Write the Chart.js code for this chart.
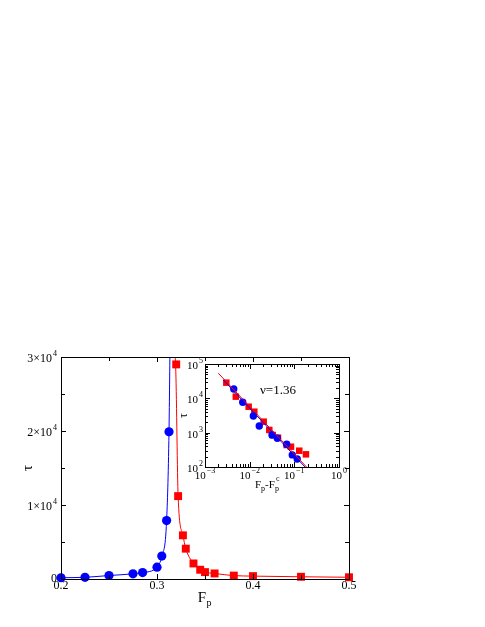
<!DOCTYPE html>
<html><head><meta charset="utf-8">
<script src="https://cdn.jsdelivr.net/npm/chart.js@4"></script>
<style>
html,body{margin:0;padding:0;background:#fff;}
#wrap{position:relative;width:485px;height:627px;}
canvas{position:absolute;left:0;top:0;}
#inset{pointer-events:none;}
</style></head><body>
<div id="wrap"><canvas id="main" width="485" height="627"></canvas><canvas id="inset" width="485" height="627"></canvas></div>
<script>
// ---------- main plot data ----------
const blueF   = [0.200, 0.225, 0.250, 0.275, 0.285, 0.300, 0.305, 0.310, 0.3125];
const blueTau = [170, 230, 470, 700, 870, 1600, 3100, 7900, 19900];
const redF    = [0.320, 0.322, 0.327, 0.330, 0.338, 0.345, 0.350, 0.360, 0.380, 0.400, 0.450, 0.500];
const redTau  = [29000, 11200, 5900, 4100, 2100, 1250, 930, 750, 460, 390, 300, 235];
// fitted curves
const blueCurveF   = [0.200, 0.225, 0.250, 0.275, 0.285, 0.300, 0.305, 0.310, 0.3125, 0.3136];
const blueCurveTau = [170, 230, 470, 700, 870, 1600, 3100, 7900, 19900, 32000];
const redCurveF    = [0.3174, 0.3196, 0.322, 0.327, 0.330, 0.338, 0.345, 0.350, 0.360, 0.380, 0.400, 0.450, 0.500];
const redCurveTau  = [32000, 28000, 11200, 5900, 4100, 2100, 1250, 930, 750, 460, 390, 300, 235];
// main ticks
const xMajorTicks = [0.2, 0.3, 0.4, 0.5];
const xTickLabels = ['0.2', '0.3', '0.4', '0.5'];
const xMinorTicks = [0.25, 0.35, 0.45];
const yMajorTicks = [0, 10000, 20000, 30000];
const yTickBase   = ['0', '1\u00d710', '2\u00d710', '3\u00d710'];
const yTickExp    = ['', '4', '4', '4'];
const yMinorTicks = [5000, 15000, 25000];

// ---------- inset data ----------
const insetBlueX = [0.0044, 0.0070, 0.0121, 0.0164, 0.0316, 0.0416, 0.0674, 0.090, 0.116];
const insetBlueY = [18700, 7700, 3060, 1560, 855, 686, 458, 225, 171];
const insetRedX  = [0.0030, 0.0049, 0.0095, 0.0127, 0.0206, 0.0275, 0.0328, 0.0431, 0.0674, 0.0842, 0.129, 0.182];
const insetRedY  = [28600, 11200, 5700, 4080, 2090, 1200, 855, 715, 437, 390, 298, 234];
const insetBlueFitX = [0.00257, 0.180];
const insetBlueFitY = [34200, 95];
const insetRedFitX  = [0.00199, 0.195];
const insetRedFitY  = [53700, 95];
const insetXDecades = [-3, -2, -1, 0];
const insetYDecades = [2, 3, 4, 5];
const nuLabel = '\u03bd=1.36';

const FONT = '"Liberation Serif", "DejaVu Serif", serif';
const pts = (xs, ys) => xs.map((x, i) => ({x: x, y: ys[i]}));

function drawPow(ctx, base, sup, x, y, align, size) {
  ctx.save();
  ctx.textBaseline = 'middle';
  ctx.fillStyle = '#000';
  const ss = Math.round(size * 0.7);
  ctx.font = size + 'px ' + FONT;
  const wb = ctx.measureText(base).width;
  ctx.font = ss + 'px ' + FONT;
  const ws = sup ? ctx.measureText(sup).width + 1 : 0;
  const total = wb + ws;
  const x0 = align === 'right' ? x - total : (align === 'center' ? x - total / 2 : x);
  const yc = sup ? y + size * 0.18 : y;
  ctx.textAlign = 'left';
  ctx.font = size + 'px ' + FONT;
  ctx.fillText(base, x0, yc);
  if (sup) {
    ctx.font = ss + 'px ' + FONT;
    ctx.fillText(sup, x0 + wb + 1, yc - size * 0.45);
  }
  ctx.restore();
}

function px(v) { return Math.round(v) + 0.5; }

const mainDecor = {
  id: 'mainDecor',
  afterDraw(chart) {
    const ctx = chart.ctx, a = chart.chartArea;
    const xs = chart.scales.x, ys = chart.scales.y;
    ctx.save();
    ctx.strokeStyle = '#000'; ctx.lineWidth = 1;
    ctx.strokeRect(px(a.left), px(a.top), Math.round(a.right - a.left), Math.round(a.bottom - a.top));
    ctx.beginPath();
    const xt = (v, len) => { const p = px(xs.getPixelForValue(v));
      ctx.moveTo(p, a.bottom); ctx.lineTo(p, a.bottom - len);
      ctx.moveTo(p, a.top); ctx.lineTo(p, a.top + len); };
    const yt = (v, len) => { const p = px(ys.getPixelForValue(v));
      ctx.moveTo(a.left, p); ctx.lineTo(a.left + len, p);
      ctx.moveTo(a.right, p); ctx.lineTo(a.right - len, p); };
    xMajorTicks.forEach(v => xt(v, 5)); xMinorTicks.forEach(v => xt(v, 4));
    yMajorTicks.forEach(v => yt(v, 5)); yMinorTicks.forEach(v => yt(v, 4));
    ctx.stroke();
    // labels
    ctx.fillStyle = '#000';
    ctx.font = '12px ' + FONT; ctx.textAlign = 'center'; ctx.textBaseline = 'top';
    xMajorTicks.forEach((v, i) => ctx.fillText(xTickLabels[i], xs.getPixelForValue(v), a.bottom + 1));
    yMajorTicks.forEach((v, i) => drawPow(ctx, yTickBase[i], yTickExp[i], a.left - 4, ys.getPixelForValue(v), 'right', 12));
    // axis titles
    ctx.font = '15px ' + FONT; ctx.textAlign = 'center'; ctx.textBaseline = 'alphabetic';
    const cx = (a.left + a.right) / 2;
    ctx.fillText('F', cx - 3, a.bottom + 23);
    ctx.font = '10px ' + FONT;
    ctx.fillText('p', cx + 4, a.bottom + 27);
    ctx.save();
    ctx.translate(a.left - 33, (a.top + a.bottom) / 2);
    ctx.rotate(-Math.PI / 2);
    ctx.font = '15px ' + FONT; ctx.textBaseline = 'middle';
    ctx.fillText('\u03c4', 0, 0);
    ctx.restore();
    ctx.restore();
  }
};

new Chart(document.getElementById('main'), {
  type: 'scatter',
  data: { datasets: [
    { data: pts(blueCurveF, blueCurveTau), showLine: true, borderColor: '#0000ff', borderWidth: 1,
      pointRadius: 0, cubicInterpolationMode: 'monotone', clip: 0 },
    { data: pts(redCurveF, redCurveTau), showLine: true, borderColor: '#ff0000', borderWidth: 1,
      pointRadius: 0, cubicInterpolationMode: 'monotone', clip: 0 },
    { data: pts(blueF, blueTau), showLine: false, pointStyle: 'circle', pointRadius: 4.6,
      backgroundColor: '#0000ff', borderColor: '#0000ff', borderWidth: 0, clip: false },
    { data: pts(redF, redTau), showLine: false, pointStyle: 'rect', pointRadius: 5.6,
      backgroundColor: '#ff0000', borderColor: '#ff0000', borderWidth: 0, clip: false }
  ]},
  options: {
    responsive: false, animation: false, devicePixelRatio: 1,
    layout: { padding: { left: 61, top: 357, right: 136, bottom: 48 } },
    plugins: { legend: { display: false }, tooltip: { enabled: false } },
    scales: {
      x: { type: 'linear', min: 0.2, max: 0.5, display: false },
      y: { type: 'linear', min: 0, max: 30000, display: false }
    }
  },
  plugins: [mainDecor]
});

const insetDecor = {
  id: 'insetDecor',
  beforeDatasetsDraw(chart) {
    const ctx = chart.ctx, a = chart.chartArea;
    ctx.save(); ctx.fillStyle = '#fff';
    ctx.fillRect(a.left, a.top, a.right - a.left, a.bottom - a.top);
    ctx.restore();
  },
  afterDraw(chart) {
    const ctx = chart.ctx, a = chart.chartArea;
    const xs = chart.scales.x, ys = chart.scales.y;
    ctx.save();
    ctx.strokeStyle = '#000'; ctx.lineWidth = 1;
    ctx.strokeRect(px(a.left), px(a.top), Math.round(a.right - a.left), Math.round(a.bottom - a.top));
    ctx.beginPath();
    const xt = (v, len) => { const p = px(xs.getPixelForValue(v));
      ctx.moveTo(p, a.bottom); ctx.lineTo(p, a.bottom - len);
      ctx.moveTo(p, a.top); ctx.lineTo(p, a.top + len); };
    const yt = (v, len) => { const p = px(ys.getPixelForValue(v));
      ctx.moveTo(a.left, p); ctx.lineTo(a.left + len, p);
      ctx.moveTo(a.right, p); ctx.lineTo(a.right - len, p); };
    insetXDecades.forEach((d, i) => {
      xt(Math.pow(10, d), 5);
      if (i < insetXDecades.length - 1) for (let m = 2; m <= 9; m++) xt(m * Math.pow(10, d), 3);
    });
    insetYDecades.forEach((d, i) => {
      yt(Math.pow(10, d), 5);
      if (i < insetYDecades.length - 1) for (let m = 2; m <= 9; m++) yt(m * Math.pow(10, d), 3);
    });
    ctx.stroke();
    insetXDecades.forEach(d => drawPow(ctx, '10', d < 0 ? '\u2212' + (-d) : String(d), xs.getPixelForValue(Math.pow(10, d)), a.bottom + 7, 'center', 11));
    insetYDecades.forEach(d => drawPow(ctx, '10', String(d), a.left - 2, ys.getPixelForValue(Math.pow(10, d)), 'right', 11));
    // x title F_p - F_p^c
    ctx.fillStyle = '#000'; ctx.textBaseline = 'alphabetic'; ctx.textAlign = 'left';
    const cx = (a.left + a.right) / 2;
    let x0 = cx - 17, yb = a.bottom + 21;
    ctx.font = '11px ' + FONT; ctx.fillText('F', x0, yb); x0 += ctx.measureText('F').width;
    ctx.font = '8px ' + FONT; ctx.fillText('p', x0, yb + 3); x0 += ctx.measureText('p').width;
    ctx.font = '11px ' + FONT; ctx.fillText('-F', x0, yb); x0 += ctx.measureText('-F').width;
    ctx.font = '8px ' + FONT; ctx.fillText('p', x0, yb + 3); ctx.fillText('c', x0 + 1, yb - 7);
    // y title
    ctx.save();
    ctx.translate(a.left - 21, (a.top + a.bottom) / 2);
    ctx.rotate(-Math.PI / 2);
    ctx.font = '12px ' + FONT; ctx.textAlign = 'center'; ctx.textBaseline = 'middle';
    ctx.fillText('\u03c4', 0, 0);
    ctx.restore();
    // nu label
    ctx.font = '13px ' + FONT; ctx.textAlign = 'left'; ctx.textBaseline = 'middle';
    ctx.fillText(nuLabel, xs.getPixelForValue(0.017), a.top + 27);
    ctx.restore();
  }
};

new Chart(document.getElementById('inset'), {
  type: 'scatter',
  data: { datasets: [
    { data: pts(insetBlueFitX, insetBlueFitY), showLine: true, borderColor: '#0000ff', borderWidth: 1, pointRadius: 0, clip: 0 },
    { data: pts(insetRedFitX, insetRedFitY), showLine: true, borderColor: '#ff0000', borderWidth: 1, pointRadius: 0, clip: 0 },
    { data: pts(insetBlueX, insetBlueY), showLine: false, pointStyle: 'circle', pointRadius: 3.7,
      backgroundColor: '#0000ff', borderColor: '#0000ff', borderWidth: 0, clip: false },
    { data: pts(insetRedX, insetRedY), showLine: false, pointStyle: 'rect', pointRadius: 4.6,
      backgroundColor: '#ff0000', borderColor: '#ff0000', borderWidth: 0, clip: false }
  ]},
  options: {
    responsive: false, animation: false, devicePixelRatio: 1,
    layout: { padding: { left: 205, top: 364, right: 146, bottom: 160 } },
    plugins: { legend: { display: false }, tooltip: { enabled: false } },
    scales: {
      x: { type: 'logarithmic', min: 0.001, max: 1, display: false },
      y: { type: 'logarithmic', min: 100, max: 100000, display: false }
    }
  },
  plugins: [insetDecor]
});
</script>
</body></html>
